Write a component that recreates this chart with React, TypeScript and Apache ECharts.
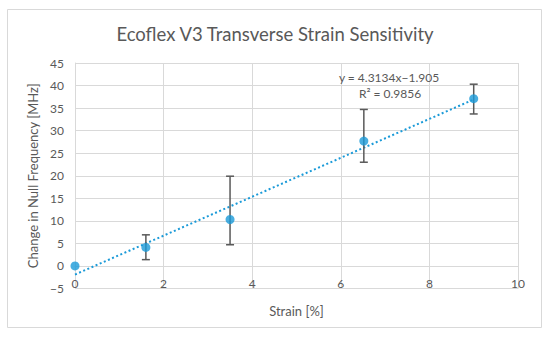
import React, { useEffect, useRef } from "react";
import * as echarts from "echarts";

const strain = [0, 1.6, 3.5, 6.52, 9.0];
const freqChange = [0, 4.1, 10.3, 27.7, 37.1];
const errLow = [0, 1.4, 4.7, 23.0, 33.7];
const errHigh = [0, 6.9, 19.9, 34.7, 40.3];
const trendX = [0, 9.0];
const trendY = [-1.905, 36.9156];
const xTicks = [0, 2, 4, 6, 8, 10];
const yTicks = [-5, 0, 5, 10, 15, 20, 25, 30, 35, 40, 45];

const titleText = "Ecoflex V3 Transverse Strain Sensitivity";
const eqText = "y = 4.3134x\u22121.905";
const r2Text = "R\u00b2 = 0.9856";

const FONT = "Lato";
const GRAY = "#595959";
const GRID = "#d9d9d9";
const BLUE = "#1a9ad8";

export default function App() {
  const ref = useRef<HTMLDivElement>(null);
  useEffect(() => {
    if (!ref.current) return;
    const chart = echarts.init(ref.current, undefined, { renderer: "svg" });
    const errData = strain.map((x, i) => [x, errLow[i], errHigh[i]]).filter((d, i) => errHigh[i] !== errLow[i]);
    chart.setOption({
      animation: false,
      backgroundColor: "#fff",
      title: {
        text: titleText,
        left: "center",
        top: 19,
        textStyle: { fontFamily: FONT, fontSize: 18.5, fontWeight: "normal", color: GRAY },
      },
      grid: { left: 75, right: 32, top: 63, bottom: 50.5 },
      xAxis: {
        type: "value",
        min: xTicks[0],
        max: xTicks[xTicks.length - 1],
        interval: 2,
        name: "Strain [%]",
        nameLocation: "middle",
        nameGap: 16,
        nameTextStyle: { fontFamily: FONT, fontSize: 13, color: GRAY },
        axisLine: { show: true, onZero: true, lineStyle: { color: GRID } },
        axisTick: { show: false },
        axisLabel: { fontFamily: FONT, fontSize: 12, color: GRAY, margin: -11 },
        splitLine: { show: true, lineStyle: { color: GRID, width: 1 } },
      },
      yAxis: {
        type: "value",
        min: yTicks[0],
        max: yTicks[yTicks.length - 1],
        interval: 5,
        name: "Change in Null Frequency [MHz]",
        nameLocation: "middle",
        nameGap: 33,
        nameTextStyle: { fontFamily: FONT, fontSize: 13, color: GRAY },
        axisLine: { show: true, onZero: false, lineStyle: { color: GRID } },
        axisTick: { show: false },
        axisLabel: {
          fontFamily: FONT,
          fontSize: 12,
          color: GRAY,
          margin: 11,
          formatter: (v: number) => String(v).replace("-", "\u2212"),
        },
        splitLine: { show: true, lineStyle: { color: GRID, width: 1 } },
      },
      graphic: [
        {
          type: "rect",
          shape: { x: 7.5, y: 9.5, width: 534, height: 318 },
          style: { fill: "none", stroke: GRID, lineWidth: 1 },
          silent: true,
          z: -1,
        },
        {
          type: "text",
          x: 389,
          y: 77,
          style: { text: eqText, fontFamily: FONT, fontSize: 12, fill: GRAY, align: "center", verticalAlign: "middle" },
          z: 10,
        },
        {
          type: "text",
          x: 390,
          y: 93,
          style: { text: r2Text, fontFamily: FONT, fontSize: 12, fill: GRAY, align: "center", verticalAlign: "middle" },
          z: 10,
        },
      ],
      series: [
        {
          type: "line",
          data: trendX.map((x, i) => [x, trendY[i]]),
          symbol: "none",
          lineStyle: { color: BLUE, width: 2, type: [2, 2.5] },
          z: 3,
        },
        {
          type: "custom",
          data: errData,
          renderItem: (params: any, api: any) => {
            const x = api.value(0);
            const lo = api.coord([x, api.value(1)]);
            const hi = api.coord([x, api.value(2)]);
            const cap = 4;
            const style = { stroke: GRAY, lineWidth: 1.5 };
            return {
              type: "group",
              children: [
                { type: "line", shape: { x1: lo[0], y1: lo[1], x2: hi[0], y2: hi[1] }, style },
                { type: "line", shape: { x1: lo[0] - cap, y1: lo[1], x2: lo[0] + cap, y2: lo[1] }, style },
                { type: "line", shape: { x1: hi[0] - cap, y1: hi[1], x2: hi[0] + cap, y2: hi[1] }, style },
              ],
            };
          },
          z: 4,
        },
        {
          type: "scatter",
          data: strain.map((x, i) => [x, freqChange[i]]),
          symbol: "circle",
          symbolSize: 9,
          itemStyle: { color: BLUE },
          z: 5,
        },
      ],
    });
    return () => chart.dispose();
  }, []);
  return (
    <div
      ref={ref}
      style={{ position: "fixed", left: 0, top: 0, width: 550, height: 339, background: "#fff" }}
    />
  );
}
